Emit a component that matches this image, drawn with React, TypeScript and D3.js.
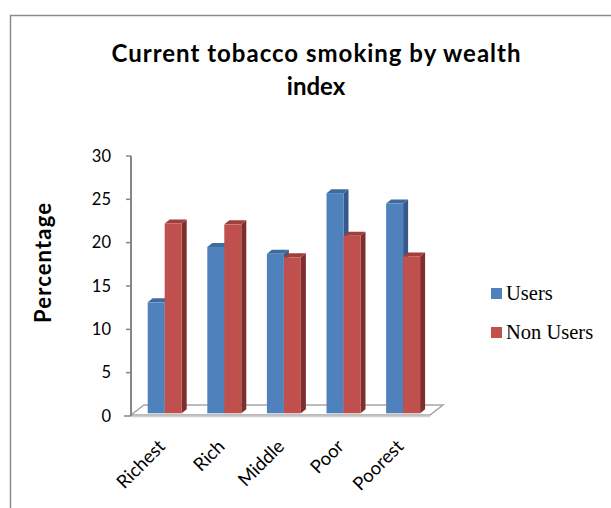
import React from "react";
import * as d3 from "d3";

// Data
const categories = ["Richest", "Rich", "Middle", "Poor", "Poorest"];
const seriesNames = ["Users", "Non Users"];
const usersValues = [12.8, 19.2, 18.4, 25.4, 24.2];
const nonUsersValues = [21.9, 21.8, 18.0, 20.5, 18.1];
const yTicks = [0, 5, 10, 15, 20, 25, 30];

const W = 611;
const H = 508;

// Colours per series: front, top, side
const palette = [
  { front: "#4F81BD", top: "#3F6A9C", side: "#34598A" },
  { front: "#C0504D", top: "#A03F3C", side: "#7E2E2D" },
];

const FONT_SANS = "Lato, 'Open Sans', 'DejaVu Sans', sans-serif";
const FONT_SERIF = "'Times New Roman', 'Liberation Serif', 'DejaVu Serif', serif";

export default function App() {
  const y = d3.scaleLinear().domain([0, 30]).range([416, 156]);
  const x = d3
    .scaleBand<string>()
    .domain(categories)
    .range([147.7, 420.1])
    .paddingInner(0.43)
    .paddingOuter(0);
  const xs = d3
    .scaleBand<string>()
    .domain(seriesNames)
    .range([0, x.bandwidth()]);

  const depthX = 5;
  const depthY = -4;
  const barLift = 2.7; // bars sit slightly behind the front edge of the floor

  const series = [usersValues, nonUsersValues];

  const bars: React.ReactNode[] = [];
  categories.forEach((c, i) => {
    series.forEach((vals, s) => {
      const v = vals[i];
      const x0 = (x(c) as number) + (xs(seriesNames[s]) as number);
      const w = xs.bandwidth();
      const yb = y(0) - barLift;
      const yt = y(v) - barLift;
      const col = palette[s];
      bars.push(
        <g key={`${c}-${s}`}>
          <path
            d={`M${x0 + w},${yt} L${x0 + w + depthX},${yt + depthY} L${x0 + w + depthX},${yb + depthY} L${x0 + w},${yb} Z`}
            fill={col.side}
          />
          <path
            d={`M${x0},${yt} L${x0 + depthX},${yt + depthY} L${x0 + w + depthX},${yt + depthY} L${x0 + w},${yt} Z`}
            fill={col.top}
          />
          <rect x={x0} y={yt} width={w} height={yb - yt} fill={col.front} />
        </g>
      );
    });
  });

  const floorFrontL = 131;
  const floorFrontR = 430;
  const floorDX = 13;
  const floorDY = -10;
  const floorY = y(0) - 1;

  return (
    <svg
      width={W}
      height={H}
      style={{ position: "absolute", left: 0, top: 0, background: "#fff" }}
    >
      <rect x={0} y={0} width={W} height={H} fill="#fff" />
      {/* chart frame */}
      <path d={`M10.5,${H} L10.5,15.5 L${W},15.5`} fill="none" stroke="#8C8C8C" strokeWidth={1.5} />

      {/* title */}
      <text
        x={316}
        y={62}
        textAnchor="middle"
        textLength={409}
        lengthAdjust="spacing"
        style={{ fontFamily: FONT_SANS, fontWeight: 700, fontSize: 24 }}
        fill="#000"
      >
        Current tobacco smoking by wealth
      </text>
      <text
        x={316}
        y={95}
        textAnchor="middle"
        style={{ fontFamily: FONT_SANS, fontWeight: 700, fontSize: 24 }}
        fill="#000"
      >
        index
      </text>

      {/* floor */}
      <path
        d={`M${floorFrontL},${floorY} L${floorFrontR},${floorY} L${floorFrontR + floorDX},${floorY + floorDY} L${floorFrontL + floorDX},${floorY + floorDY} Z`}
        fill="#fff"
        stroke="#A6A6A6"
        strokeWidth={1.5}
      />
      <line
        x1={floorFrontL}
        x2={floorFrontR}
        y1={floorY + 1.5}
        y2={floorY + 1.5}
        stroke="#D0D0D0"
        strokeWidth={1.5}
      />

      {/* value axis */}
      <line x1={131} x2={131} y1={y(30)} y2={y(0)} stroke="#868686" strokeWidth={2} />
      {yTicks.map((t) => (
        <g key={t}>
          <line
            x1={t === 0 ? 124 : 126}
            x2={131}
            y1={y(t)}
            y2={y(t)}
            stroke="#868686"
            strokeWidth={1.5}
          />
          <text
            x={111}
            y={y(t)}
            dy="0.35em"
            textAnchor="end"
            style={{ fontFamily: FONT_SANS, fontSize: 16.5 }}
            fill="#000"
          >
            {t}
          </text>
        </g>
      ))}

      {/* bars */}
      {bars}

      {/* category labels */}
      {categories.map((c) => (
        <text
          key={c}
          transform={`translate(${(x(c) as number) + x.bandwidth() / 2 - 3},${443}) rotate(-45)`}
          textAnchor="end"
          dy="0.35em"
          style={{ fontFamily: FONT_SANS, fontSize: 18.5 }}
          fill="#000"
        >
          {c}
        </text>
      ))}

      {/* value axis title */}
      <text
        transform={`translate(51,263) rotate(-90)`}
        textAnchor="middle"
        textLength={120}
        lengthAdjust="spacing"
        style={{ fontFamily: FONT_SANS, fontWeight: 700, fontSize: 22 }}
        fill="#000"
      >
        Percentage
      </text>

      {/* legend */}
      {seriesNames.map((s, i) => (
        <g key={s} transform={`translate(491,${288 + i * 39})`}>
          <rect x={0} y={0} width={11} height={11} fill={palette[i].front} />
          <text
            x={15}
            y={11.5}
            style={{ fontFamily: FONT_SERIF, fontSize: 20.5 }}
            fill="#000"
          >
            {s}
          </text>
        </g>
      ))}
    </svg>
  );
}
